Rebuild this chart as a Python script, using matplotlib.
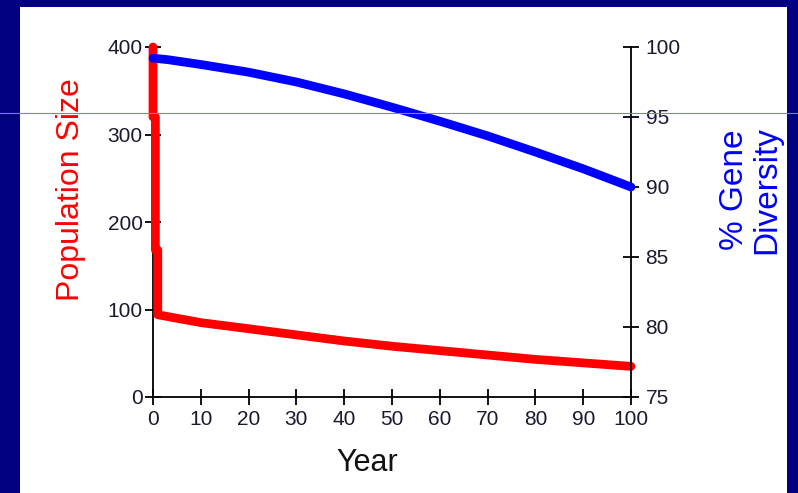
import matplotlib
matplotlib.use('Agg')
import matplotlib.pyplot as plt
from matplotlib.patches import Rectangle
from matplotlib.lines import Line2D

plt.rcParams['font.family'] = ['Liberation Sans', 'DejaVu Sans']

# --- Data ---
# population crashes in the first year, then declines slowly
pop_years = [0, 0, 0.5, 0.5, 1, 1, 10, 20, 30, 40, 50, 60, 70, 80, 90, 100]
pop_size = [400, 320, 320, 168, 168, 94, 85, 78, 71, 64, 58, 53, 48, 43, 39, 35]

div_years = [0, 3, 10, 20, 30, 40, 50, 60, 70, 80, 90, 100]
gene_div = [99.2, 99.1, 98.75, 98.2, 97.5, 96.65, 95.7, 94.7, 93.65, 92.5, 91.3, 90.0]

x_ticks = list(range(0, 101, 10))
pop_ticks = [0, 100, 200, 300, 400]
div_ticks = [75, 80, 85, 90, 95, 100]

W, H = 798, 493
fig = plt.figure(figsize=(W / 100, H / 100), dpi=100, facecolor='#000080')

# white slide area inside the navy frame
fig.patches.append(Rectangle((20 / W, 0), (787 - 20) / W, (H - 7) / H,
                             transform=fig.transFigure, facecolor='white',
                             edgecolor='none', zorder=-5))

ax = fig.add_axes([153 / W, (H - 397) / H, (631 - 153) / W, (397 - 47) / H])
ax.patch.set_alpha(0)
ax2 = ax.twinx()
ax2.patch.set_alpha(0)

ax.plot(pop_years, pop_size, color='#ff0000', lw=6.3, solid_capstyle='round',
        solid_joinstyle='round', clip_on=False, zorder=3)
ax2.plot(div_years, gene_div, color='#0000ff', lw=6.3, solid_capstyle='round',
         solid_joinstyle='round', clip_on=False, zorder=3)

ax.set_xlim(0, 100)
ax.set_ylim(0, 400)
ax2.set_ylim(75, 100)
ax.set_xticks(x_ticks)
ax.set_yticks(pop_ticks)
ax2.set_yticks(div_ticks)

for a in (ax, ax2):
    a.spines['top'].set_visible(False)
    for s in a.spines.values():
        s.set_linewidth(1.3)
        s.set_color('black')
    a.tick_params(direction='inout', length=11, width=1.3, labelsize=15,
                  labelcolor='#1a1a2e', color='black')
ax.spines['right'].set_visible(False)
ax2.spines['left'].set_visible(False)
ax2.spines['bottom'].set_visible(False)
ax.tick_params(axis='y', pad=2)
ax.tick_params(axis='x', pad=4)
ax2.tick_params(axis='y', pad=5)

fig.text(71 / W, (H - 190) / H, 'Population Size', rotation=90, color='#ff0000',
         fontsize=23, ha='center', va='center')
fig.text(751 / W, (H - 190) / H, '% Gene\nDiversity', rotation=90, color='#0000ff',
         fontsize=24, ha='center', va='center', multialignment='center',
         linespacing=1.05)
fig.text(367 / W, (H - 463) / H, 'Year', color='#111111', fontsize=22,
         ha='center', va='center')

# thin guide line crossing the slide
fig.lines.append(Line2D([0, 1], [(H - 113) / H, (H - 113) / H],
                        transform=fig.transFigure, color='#8080c0', lw=0.8,
                        zorder=10))

fig.savefig('out.png', dpi=100, facecolor=fig.get_facecolor())
